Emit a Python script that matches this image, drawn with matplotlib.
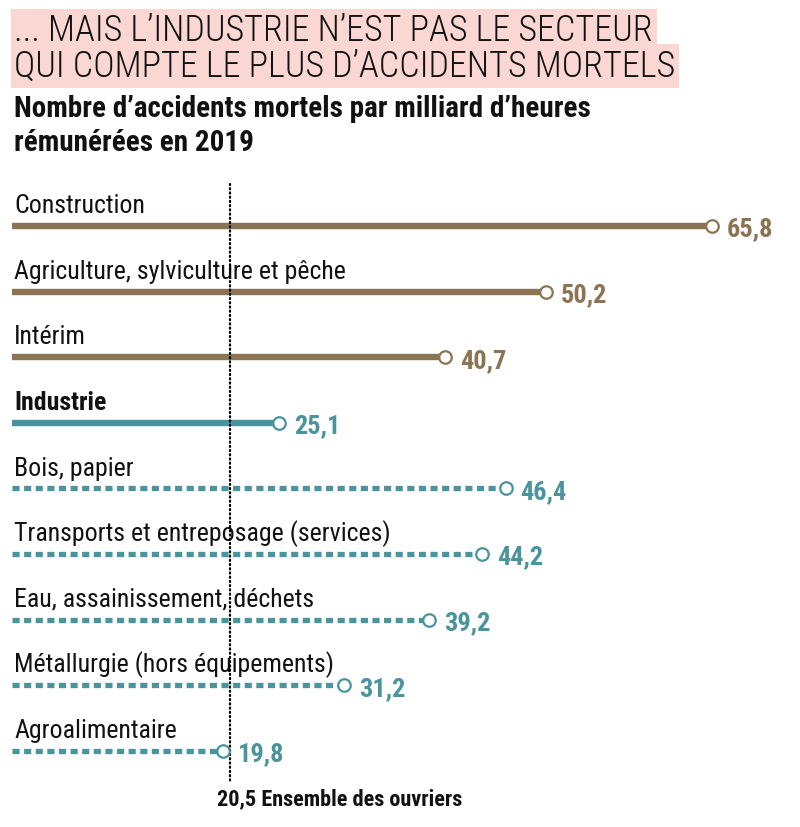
import numpy as np
import matplotlib.pyplot as plt

sectors = ["Construction", "Agriculture, sylviculture et pêche", "Intérim", "Industrie",
           "Bois, papier", "Transports et entreposage (services)", "Eau, assainissement, déchets",
           "Métallurgie (hors équipements)", "Agroalimentaire"]
values = [65.8, 50.2, 40.7, 25.1, 46.4, 44.2, 39.2, 31.2, 19.8]
groups = ["autre", "autre", "autre", "industrie", "sous", "sous", "sous", "sous", "sous"]
ref_value = 20.5
ref_label = "Ensemble des ouvriers"

BROWN = "#8a7453"
TEAL = "#4a949d"
PINK = "#fad7d3"

plt.rcParams['font.family'] = ["Roboto Condensed", "Liberation Sans Narrow", "DejaVu Sans"]


def fmt(v):
    return f"{v:.1f}".replace(".", ",")


def main():
    fig = plt.figure(figsize=(8, 8.28), dpi=100)
    ax = fig.add_axes([0, 0, 1, 1])
    # x: 0 at px 12, 10.64 px per unit ; rows every 65.6 px, first row at px 227
    ax.set_xlim(-12 / 10.64, (800 - 12) / 10.64)
    ax.set_ylim((828 - 227) / 65.6, -227 / 65.6)
    ax.axis('off')

    for i, (name, v, g) in enumerate(zip(sectors, values, groups)):
        col = BROWN if g == "autre" else TEAL
        if g == "sous":
            ax.plot([0, v], [i, i], color=col, lw=3.8, dashes=(1.35, 0.85),
                    solid_capstyle='butt', dash_capstyle='butt', zorder=2)
        else:
            ax.plot([0, v], [i, i], color=col, lw=4.6, solid_capstyle='butt', zorder=2)
        ax.plot([v], [i], marker='o', ms=9, mfc='white', mec=col, mew=1.6, zorder=4)
        ax.text(v + 1.4, i + 0.04, fmt(v), color=col, fontsize=19, fontweight='bold',
                va='center', ha='left')
        ax.text(0.2, i - 0.21, name, fontsize=18.6, va='baseline', ha='left',
                fontweight='bold' if g == "industrie" else 'normal', color='#111111')

    ax.plot([ref_value, ref_value], [-0.64, 8.46], color='black', lw=1.6,
            ls=(0, (0.5, 1.4)), dash_capstyle='round', zorder=3)
    ax.text(ref_value - 1.2, 8.73, fmt(ref_value) + " " + ref_label, fontsize=16,
            fontweight='bold', va='center', ha='left', color='#111111')

    fig.text(0.018, 0.95, "... MAIS L\u2019INDUSTRIE N\u2019EST PAS LE SECTEUR", fontsize=26,
             fontweight='light', va='baseline', ha='left', color='#111111',
             bbox=dict(facecolor=PINK, edgecolor='none', pad=2.5))
    fig.text(0.018, 0.907, "QUI COMPTE LE PLUS D\u2019ACCIDENTS MORTELS", fontsize=26,
             fontweight='light', va='baseline', ha='left', color='#111111',
             bbox=dict(facecolor=PINK, edgecolor='none', pad=2.5))
    fig.text(0.018, 0.859, "Nombre d\u2019accidents mortels par milliard d\u2019heures",
             fontsize=21, fontweight='bold', va='baseline', ha='left', color='#111111')
    fig.text(0.018, 0.818, "rémunérées en 2019",
             fontsize=21, fontweight='bold', va='baseline', ha='left', color='#111111')

    fig.savefig("out.png", dpi=100, facecolor='white')


if __name__ == '__main__':
    main()
